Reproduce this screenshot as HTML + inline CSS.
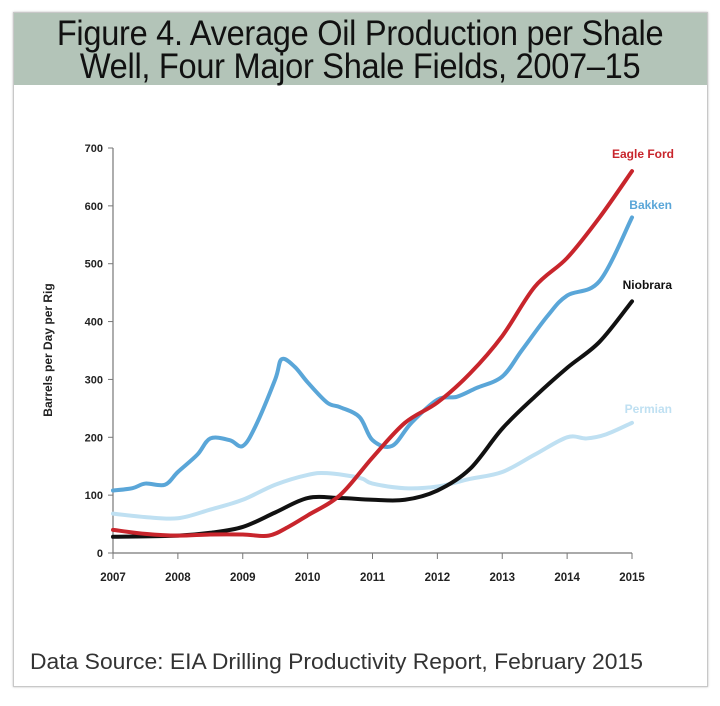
<!DOCTYPE html>
<html><head><meta charset="utf-8"><style>
body{margin:0;width:720px;height:706px;background:#fff;overflow:hidden;font-family:"Liberation Sans",sans-serif}
#frame{position:absolute;left:13px;top:12px;width:693px;height:673px;border:1px solid #c8c8c8;box-shadow:0 0 2px #bbb}
#title{position:absolute;left:0;top:0;width:693px;height:72px;background:#b3c4b8;text-align:center;font-size:35px;line-height:33px;color:#111;padding-top:4px;box-sizing:border-box;letter-spacing:-0.3px;transform-origin:center top}
#title span{display:inline-block;transform:scaleX(0.93)}
#src{position:absolute;left:16px;top:636px;font-size:22px;color:#333;transform:scaleX(1.04);transform-origin:left top}
svg{position:absolute;left:0;top:0}
</style></head><body>
<div id="frame">
<div id="title"><span>Figure 4. Average Oil Production per Shale<br>Well, Four Major Shale Fields, 2007–15</span></div>
<div id="src">Data Source: EIA Drilling Productivity Report, February 2015</div>
</div>
<svg id="chart" width="720" height="706"></svg>
<script>
const years=[2007,2008,2009,2010,2011,2012,2013,2014,2015];
const yTicks=[0,100,200,300,400,500,600,700];
const eagleX=[2007,2007.5,2008,2008.5,2009,2009.4,2009.7,2010,2010.5,2011,2011.5,2012,2012.5,2013,2013.5,2014,2014.5,2015];
const eagleY=[40,33,30,32,32,30,45,65,100,165,225,260,310,375,460,510,580,660];
const bakkenX=[2007,2007.3,2007.5,2007.8,2008,2008.3,2008.5,2008.8,2009,2009.2,2009.5,2009.6,2009.8,2010,2010.3,2010.5,2010.8,2011,2011.3,2011.6,2012,2012.3,2012.6,2013,2013.3,2013.7,2014,2014.5,2015];
const bakkenY=[108,112,120,118,140,170,198,195,185,220,300,335,322,295,260,252,235,195,185,225,265,270,285,305,350,410,445,470,580];
const niobraraX=[2007,2008,2008.5,2009,2009.5,2010,2010.5,2011,2011.5,2012,2012.5,2013,2013.5,2014,2014.5,2015];
const niobraraY=[28,30,35,45,70,95,95,92,92,108,145,215,270,320,365,435];
const permianX=[2007,2007.5,2008,2008.5,2009,2009.5,2010,2010.3,2010.8,2011,2011.5,2012,2012.5,2013,2013.5,2014,2014.3,2014.6,2015];
const permianY=[68,62,60,75,92,118,135,138,130,120,112,115,128,140,170,200,198,205,225];

const NS='http://www.w3.org/2000/svg';
const svg=document.getElementById('chart');
const x0=113,x1=632,yb=553,yt=148;
const sx=v=>x0+(v-2007)/8*(x1-x0);
const sy=v=>yb-v/700*(yb-yt);
function mk(t,a){const e=document.createElementNS(NS,t);for(const k in a)e.setAttribute(k,a[k]);svg.appendChild(e);return e;}
let e;
e=mk('line',{x1:x0,y1:yt,x2:x0,y2:yb,stroke:'#777','stroke-width':1.2});


e=mk('line',{x1:x0,y1:yb,x2:x1,y2:yb,stroke:'#777','stroke-width':1.2});


yTicks.forEach(v=>{
 mk('line',{x1:x0-5,y1:sy(v),x2:x0,y2:sy(v),stroke:'#777'});
 e=mk('text',{x:x0-10,y:sy(v)+4,'text-anchor':'end','font-size':11,'font-weight':'bold',fill:'#222'});
 e.textContent=v;
 
 
});
years.forEach(v=>{
 mk('line',{x1:sx(v),y1:yb,x2:sx(v),y2:yb+6,stroke:'#777'});
 e=mk('text',{x:sx(v),y:yb+28,'text-anchor':'middle','font-size':11.5,'font-weight':'bold',fill:'#222'});
 e.textContent=v;
 
 
});
e=mk('text',{x:0,y:0,transform:'translate(52,350) rotate(-90)','text-anchor':'middle','font-size':12,'font-weight':'bold',fill:'#222'});
e.textContent='Barrels per Day per Rig';


function path(xs,ys){
 const p=xs.map((v,i)=>[sx(v),sy(ys[i])]);
 let d='M'+p[0][0]+','+p[0][1];
 for(let i=0;i<p.length-1;i++){
  const a=p[i-1]||p[i],b=p[i],c=p[i+1],n=p[i+2]||c;
  d+=' C'+(b[0]+(c[0]-a[0])/6)+','+(b[1]+(c[1]-a[1])/6)+' '+(c[0]-(n[0]-b[0])/6)+','+(c[1]-(n[1]-b[1])/6)+' '+c[0]+','+c[1];
 }
 return d;
}
const series=[[permianX,permianY,'#bfe0f2','permian-line'],[niobraraX,niobraraY,'#111','niobrara-line'],[bakkenX,bakkenY,'#5aa6d8','bakken-line'],[eagleX,eagleY,'#c8252c','eagle-ford-line']];
series.forEach(s=>{
 e=mk('path',{d:path(s[0],s[1]),fill:'none',stroke:s[2],'stroke-width':4,'stroke-linejoin':'round','stroke-linecap':'round'});
 
 
});
const labels=[['Eagle Ford',sx(2015)+42,158,'#c8252c','eagle-ford-label'],['Bakken',sx(2015)+40,209,'#5aa6d8','bakken-label'],['Niobrara',sx(2015)+40,289,'#111','niobrara-label'],['Permian',sx(2015)+40,413,'#bfe0f2','permian-label']];
labels.forEach(l=>{
 e=mk('text',{x:l[1],y:l[2],'text-anchor':'end','font-size':12,'font-weight':'bold',fill:l[3]});
 e.textContent=l[0];
 
 
});
</script>
</body></html>
